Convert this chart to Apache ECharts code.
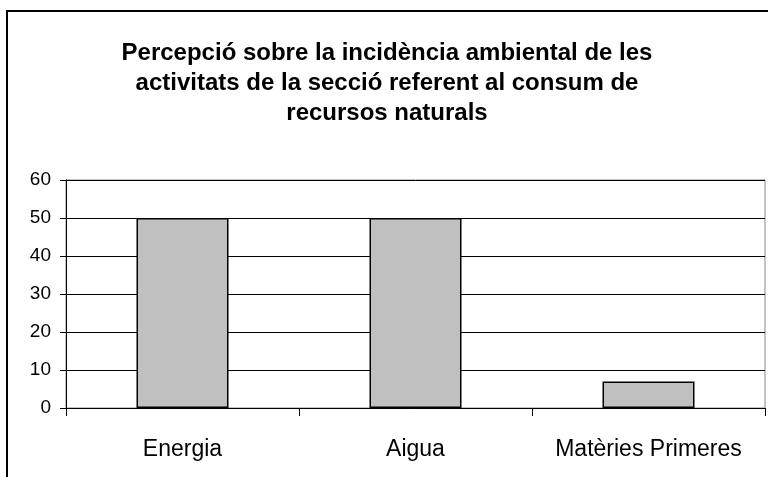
<!DOCTYPE html>
<html>
<head>
<meta charset="utf-8">
<script src="https://cdn.jsdelivr.net/npm/echarts@6/dist/echarts.min.js"></script>
<style>
  html, body { margin: 0; padding: 0; background: #fff; }
  #chart { width: 768px; height: 477px; }
</style>
</head>
<body>
<div id="chart"></div>
<script>
var categories = ['Energia', 'Aigua', 'Matèries Primeres'];
var values = [50, 50, 7];
var yTicks = [0, 10, 20, 30, 40, 50, 60];

var chart = echarts.init(document.getElementById('chart'));
chart.setOption({
  animation: false,
  textStyle: { fontFamily: 'Liberation Sans, Arial, sans-serif' },
  title: {
    text: 'Percepció sobre la incidència ambiental de les\nactivitats de la secció referent al consum de\nrecursos naturals',
    left: 382,
    textAlign: 'center',
    top: 33,
    textStyle: {
      fontSize: 24,
      fontWeight: 'bold',
      color: '#000',
      lineHeight: 30
    }
  },
  graphic: [{
    type: 'rect',
    shape: { x: 7, y: 11, width: 780, height: 490 },
    style: { fill: 'none', stroke: '#000', lineWidth: 2 },
    silent: true
  }],
  grid: {
    left: 66,
    right: 3,
    top: 180,
    bottom: 69,
    show: true,
    borderColor: '#888',
    borderWidth: 1
  },
  xAxis: {
    type: 'category',
    data: categories,
    axisLine: { lineStyle: { color: '#000', width: 1 } },
    axisTick: { show: true, length: 8, lineStyle: { color: '#000' } },
    axisLabel: { color: '#000', fontSize: 23, margin: 30, interval: 0, hideOverlap: false }
  },
  yAxis: {
    type: 'value',
    min: yTicks[0],
    max: yTicks[yTicks.length - 1],
    interval: 10,
    axisLine: { show: true, lineStyle: { color: '#000', width: 1 } },
    axisTick: { show: true, length: 6, lineStyle: { color: '#000' } },
    axisLabel: { color: '#000', fontSize: 19, margin: 15 },
    splitLine: { show: true, lineStyle: { color: '#000', width: 1 } }
  },
  series: [{
    type: 'bar',
    data: values,
    barWidth: 92,
    itemStyle: {
      color: '#c0c0c0',
      borderColor: '#000',
      borderWidth: 1.5
    }
  }]
});
</script>
</body>
</html>
